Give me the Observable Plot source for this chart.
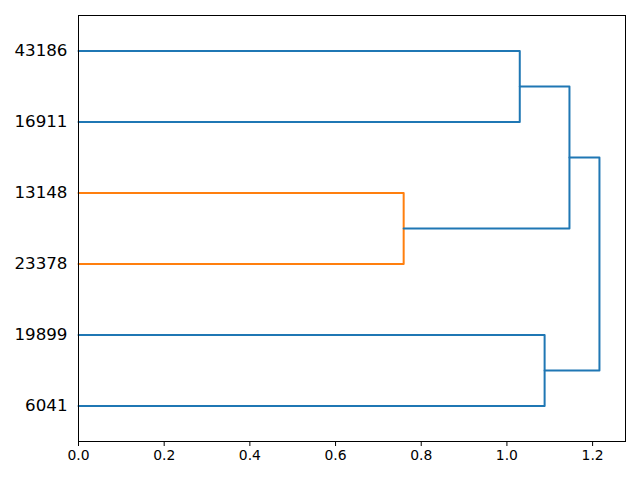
<!DOCTYPE html>
<html>
<head>
<meta charset="utf-8">
<script src="https://cdn.jsdelivr.net/npm/d3@7"></script>
<script src="https://cdn.jsdelivr.net/npm/@observablehq/plot@0.6"></script>
<style>
  html, body { margin: 0; padding: 0; background: white; }
</style>
</head>
<body>
<div id="chart"></div>
<script>
// Leaf labels, bottom to top (positions 5, 15, ..., 55 as in scipy)
const leafLabels = ["6041", "19899", "23378", "13148", "16911", "43186"];
const leafPositions = [5, 15, 25, 35, 45, 55];

// Dendrogram links (scipy-style icoord / dcoord)
const icoord = [
  [25, 25, 35, 35],
  [45, 45, 55, 55],
  [30, 30, 50, 50],
  [5, 5, 15, 15],
  [10, 10, 40, 40]
];
const dcoord = [
  [0, 0.759, 0.759, 0],
  [0, 1.030, 1.030, 0],
  [0.759, 1.146, 1.146, 1.030],
  [0, 1.088, 1.088, 0],
  [1.088, 1.216, 1.216, 1.146]
];
const linkColors = ["#ff7f0e", "#1f77b4", "#1f77b4", "#1f77b4", "#1f77b4"];

const xTicks = [0, 0.2, 0.4, 0.6, 0.8, 1.0, 1.2];

const rows = [];
icoord.forEach((ic, i) => {
  ic.forEach((yv, j) => rows.push({link: i, y: yv, x: dcoord[i][j], color: linkColors[i]}));
});

const maxD = d3.max(dcoord.flat());

const chart = Plot.plot({
  width: 640,
  height: 480,
  marginLeft: 78,
  marginRight: 15,
  marginTop: 15,
  marginBottom: 39,
  style: {fontFamily: "DejaVu Sans", background: "white", color: "black"},
  x: {domain: [0, maxD * 1.05]},
  y: {domain: [0, 60]},
  marks: [
    Plot.line(rows, {x: "x", y: "y", z: "link", stroke: "color", strokeWidth: 2, curve: "linear"}),
    Plot.axisX({ticks: xTicks, tickFormat: d3.format(".1f"), tickSize: 5, tickPadding: 4, fontSize: 13.9, label: null, stroke: "black", fill: "black"}),
    Plot.axisY({ticks: leafPositions, tickFormat: d => leafLabels[leafPositions.indexOf(d)], tickSize: 0, tickPadding: 11, fontSize: 16.7, label: null, fill: "black"}),
    Plot.frame({stroke: "black", strokeWidth: 1})
  ]
});
document.getElementById("chart").appendChild(chart);
</script>
</body>
</html>
